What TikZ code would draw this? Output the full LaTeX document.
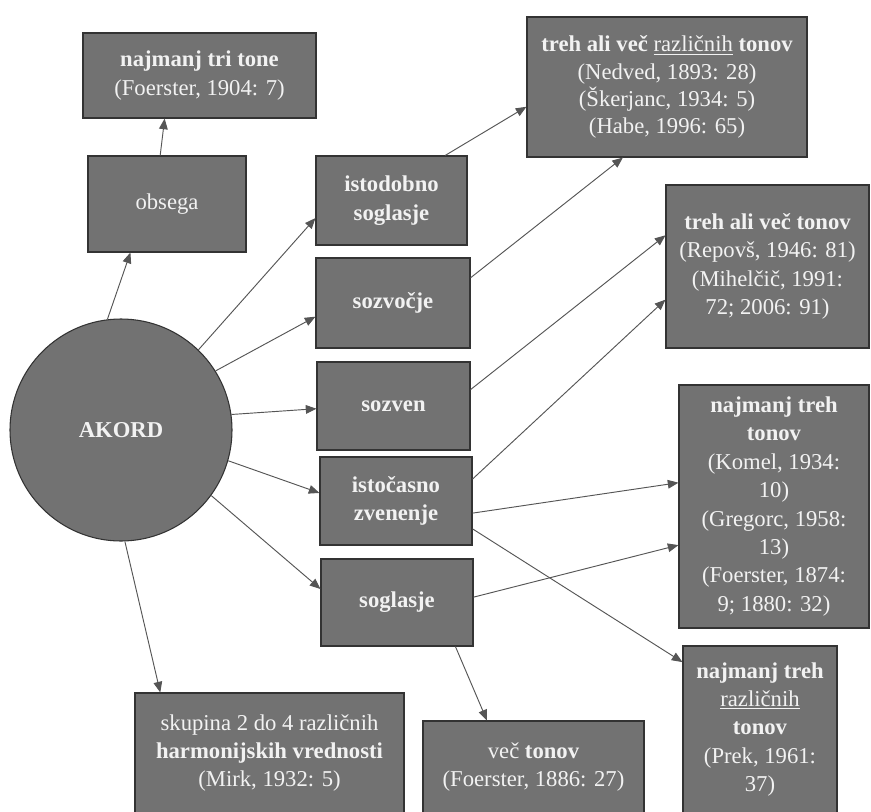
\documentclass[tikz,border=0pt]{standalone}
\usepackage{fontspec}
\setmainfont{Liberation Serif}
\usetikzlibrary{arrows.meta}
\definecolor{boxfill}{HTML}{727272}
\definecolor{boxline}{HTML}{333333}
\definecolor{txt}{HTML}{F2F2F2}
\definecolor{arr}{HTML}{555555}
\begin{document}
\begin{tikzpicture}[x=0.75pt,y=-0.75pt,
 bx/.style 2 args={draw=boxline, fill=boxfill, text=txt, line width=0.8pt, inner sep=0pt, align=center,
   font=\fontsize{17}{21.3}\selectfont, minimum width=#1*0.75pt, minimum height=#2*0.75pt},
 conn/.style={draw=arr, line width=0.7pt, -{Triangle[length=8pt,width=6.5pt]}}]
\clip (0,0) rectangle (871,811);
\fill[white] (0,0) rectangle (871,811);

% boxes
\node[bx={233}{85}] (tri) at (199.5,75.5) {\textbf{najmanj tri tone}\\(Foerster, 1904: 7)};
\node[bx={158}{96}] (obs) at (167,204) {obsega};
\node[bx={151}{89}] (ist) at (391.5,200.5) {\textbf{istodobno}\\\textbf{soglasje}};
\node[bx={154}{90}] (szv) at (393,303) {\textbf{sozvočje}};
\node[bx={153}{88}] (szn) at (393.5,406) {\textbf{sozven}};
\node[bx={152}{88}] (isc) at (396,501) {\textbf{istočasno}\\\textbf{zvenenje}};
\node[bx={152}{87}] (sgl) at (397,602.5) {\textbf{soglasje}};
\node[bx={280}{140}, font=\fontsize{17}{20.3}\selectfont] (raz) at (667,87)
  {\textbf{treh ali več} \underline{različnih} \textbf{tonov}\\(Nedved, 1893: 28)\\(Škerjanc, 1934: 5)\\(Habe, 1996: 65)};
\node[bx={203}{163}] (ton) at (767.5,266.5)
  {\textbf{treh ali več tonov}\\(Repovš, 1946: 81)\\(Mihelčič, 1991:\\72; 2006: 91)};
\node[bx={190}{243}] (nmt) at (774,506.5)
  {\textbf{najmanj treh}\\\textbf{tonov}\\(Komel, 1934:\\10)\\(Gregorc, 1958:\\13)\\(Foerster, 1874:\\9; 1880: 32)};
\node[bx={154}{167}] (nmr) at (760,729.5)
  {\textbf{najmanj treh}\\\underline{različnih}\\\textbf{tonov}\\(Prek, 1961:\\37)};
\node[bx={269}{120}] (sku) at (269.5,753)
  {skupina 2 do 4 različnih\\\textbf{harmonijskih vrednosti}\\(Mirk, 1932: 5)};
\node[bx={221}{92}] (vec) at (533.5,767)
  {več \textbf{tonov}\\(Foerster, 1886: 27)};

% circle
\node[draw=boxline, fill=boxfill, text=txt, line width=0.8pt, circle, inner sep=0pt,
  minimum size=222*0.75pt, font=\fontsize{17}{21.3}\selectfont] (ak) at (121,430) {\textbf{AKORD}};

% connectors
\draw[conn] (obs.98.3) -- (tri.231.8);
\draw[conn] (ak.97) -- (obs.233.1);
\draw[conn] (ak.46.4) -- (ist.193);
\draw[conn] (ak.32.9) -- (szv.190.9);
\draw[conn] (ak.8.7) -- (szn.182.2);
\draw[conn] (ak.-16.8) -- (isc.174);
\draw[conn] (ak.-36.9) -- (sgl.170.5);
\draw[conn] (ak.-88) -- (sku.151.9);
\draw[conn] (ist.40.8) -- (raz.188.5);
\draw[conn] (szv.18.7) -- (raz.238.2);
\draw[conn] (szn.12.5) -- (ton.163.6);
\draw[conn] (isc.16.8) -- (ton.198.4);
\draw[conn] (isc.-9) -- (nmt.166.1);
\draw[conn] (sgl.4.1) -- (nmt.202.1);
\draw[conn] (isc.-20.9) -- (nmr.139.6);
\draw[conn] (sgl.-37) -- (vec.135.9);
\end{tikzpicture}
\end{document}
